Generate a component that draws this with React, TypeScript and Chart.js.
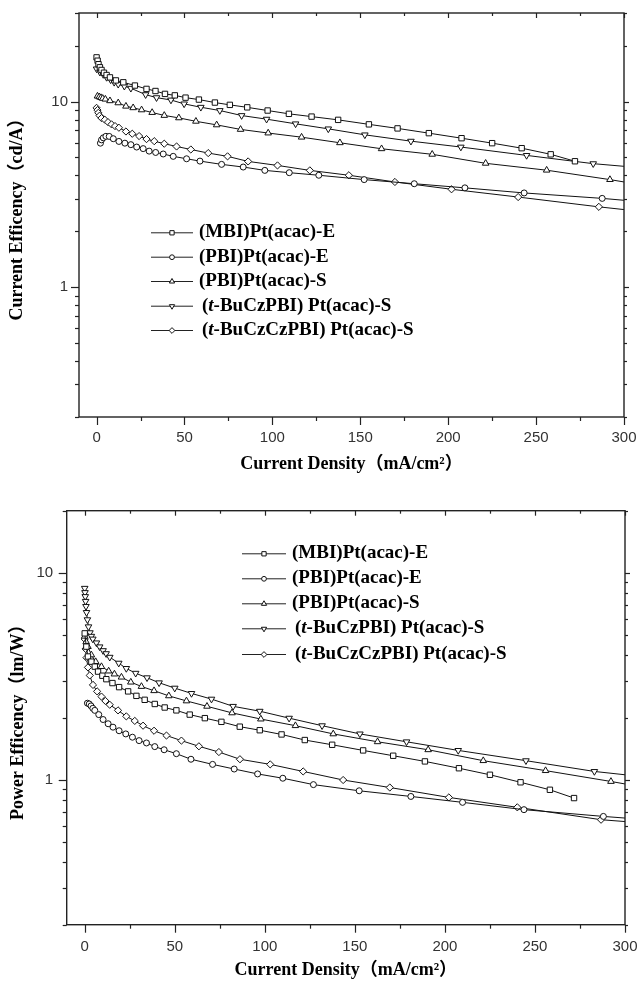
import React, { useEffect, useRef } from 'react';
import { Chart, registerables } from 'chart.js';

Chart.register(...registerables);

// ---------------- data ----------------
const SERIES_NAMES = [
  '(MBI)Pt(acac)-E',
  '(PBI)Pt(acac)-E',
  '(PBI)Pt(acac)-S',
  '(t-BuCzPBI) Pt(acac)-S',
  '(t-BuCzCzPBI) Pt(acac)-S',
];

// Top chart: current efficiency (cd/A) vs current density (mA/cm2)
const CE_MBI_E_X = [0, 0.6, 1.1, 1.9, 2.8, 4.2, 5.7, 7.6, 11, 15.2, 21.8, 28.4, 33.5, 38.9, 44.5, 50.6, 58.2, 67.3, 75.8, 85.7, 97.3, 109.4, 122.3, 137.4, 154.9, 171.2, 189, 207.6, 225, 241.8, 258.3, 272.1];
const CE_MBI_E_Y = [17.3, 16.6, 15.9, 15.3, 14.8, 14.3, 13.9, 13.5, 13.0, 12.7, 12.2, 11.7, 11.4, 11.0, 10.8, 10.5, 10.25, 9.88, 9.6, 9.31, 8.95, 8.59, 8.3, 7.97, 7.54, 7.17, 6.76, 6.35, 5.97, 5.61, 5.2, 4.77];

const CE_PBI_E_X = [2.2, 2.8, 3.8, 5.3, 7.2, 9.5, 12.7, 16.1, 19.5, 22.8, 26.5, 29.9, 33.6, 37.9, 43.6, 51.2, 58.8, 71.1, 83.4, 95.7, 109.6, 126.4, 152.2, 180.7, 209.5, 243.2, 287.6, 300];
const CE_PBI_E_Y = [5.97, 6.22, 6.38, 6.5, 6.49, 6.31, 6.1, 5.97, 5.86, 5.69, 5.58, 5.41, 5.32, 5.22, 5.07, 4.92, 4.78, 4.59, 4.44, 4.26, 4.14, 4.01, 3.8, 3.61, 3.43, 3.22, 3.01, 2.94];

const CE_PBI_S_X = [0.5, 1.5, 2.5, 3.5, 5, 7.6, 12.3, 16.7, 20.8, 25.6, 31.6, 38.5, 46.8, 56.5, 68.3, 81.9, 97.6, 116.6, 138.4, 162.1, 190.9, 221.3, 256, 292, 300];
const CE_PBI_S_Y = [10.7, 10.6, 10.5, 10.4, 10.3, 10.1, 9.84, 9.44, 9.26, 9.02, 8.73, 8.42, 8.17, 7.83, 7.49, 7.08, 6.77, 6.43, 6.0, 5.57, 5.2, 4.65, 4.27, 3.8, 3.69];

const CE_TBUCZ_X = [0, 1.9, 3.8, 5.7, 8, 10, 12.3, 15.8, 19.5, 27.9, 34.1, 42.3, 49.8, 59.3, 70.1, 82.5, 96.7, 113.2, 131.8, 152.6, 178.8, 207.2, 244.6, 282.5, 300];
const CE_TBUCZ_Y = [15.0, 14.4, 14.0, 13.5, 13.1, 12.7, 12.4, 12.1, 11.8, 10.9, 10.5, 10.2, 9.72, 9.32, 8.95, 8.41, 8.04, 7.59, 7.13, 6.62, 6.12, 5.69, 5.13, 4.63, 4.48];

const CE_TBUCZCZ_X = [0, 0.5, 1, 1.7, 2.8, 4.7, 6.5, 8.5, 10.5, 12.7, 16.7, 20.3, 24.2, 28.4, 32.8, 38.5, 45.5, 53.6, 63.5, 74.5, 86.2, 102.9, 121.3, 143.5, 169.7, 201.9, 239.8, 285.7, 300];
const CE_TBUCZCZ_Y = [9.25, 9.0, 8.7, 8.4, 8.15, 7.98, 7.75, 7.54, 7.38, 7.23, 6.9, 6.71, 6.52, 6.28, 6.12, 5.93, 5.73, 5.52, 5.28, 5.07, 4.76, 4.53, 4.26, 4.01, 3.69, 3.37, 3.06, 2.71, 2.62];

// Bottom chart: power efficiency (lm/W) vs current density (mA/cm2)
const PE_MBI_E_X = [0, 0.9, 1.8, 3.7, 5.6, 7.4, 9.8, 12, 15.4, 19.1, 24.1, 28.7, 33.3, 38.9, 44.4, 50.9, 58.3, 66.7, 75.9, 86.1, 97.2, 109.3, 122.2, 137.4, 154.6, 171.3, 188.9, 207.8, 225, 242, 258.3, 271.7];
const PE_MBI_E_Y = [5.11, 4.41, 3.95, 3.73, 3.53, 3.34, 3.19, 3.07, 2.94, 2.81, 2.68, 2.55, 2.44, 2.33, 2.24, 2.17, 2.07, 1.99, 1.91, 1.81, 1.74, 1.66, 1.56, 1.48, 1.39, 1.31, 1.23, 1.14, 1.06, 0.975, 0.897, 0.818];

const PE_PBI_E_X = [1.5, 2.5, 3.5, 4.5, 5.6, 7.8, 10.2, 13, 15.7, 19.1, 22.8, 26.5, 30.2, 34.3, 38.9, 44.1, 50.9, 59, 71, 83, 96, 110, 127, 152.4, 181.1, 209.8, 243.9, 288, 300];
const PE_PBI_E_Y = [2.35, 2.33, 2.28, 2.22, 2.17, 2.07, 1.96, 1.87, 1.8, 1.73, 1.67, 1.61, 1.55, 1.51, 1.45, 1.4, 1.34, 1.26, 1.19, 1.13, 1.07, 1.02, 0.95, 0.887, 0.833, 0.78, 0.719, 0.667, 0.655];

const PE_PBI_S_X = [0, 0.8, 1.8, 3.7, 6.1, 9.3, 13.3, 16.5, 20.4, 25.6, 31.5, 38.5, 46.7, 56.5, 67.9, 81.8, 97.8, 117, 138, 162.6, 190.7, 221.3, 255.9, 292.2, 300];
const PE_PBI_S_Y = [4.95, 4.65, 4.41, 4.02, 3.73, 3.53, 3.36, 3.25, 3.14, 2.97, 2.83, 2.7, 2.55, 2.41, 2.27, 2.11, 1.97, 1.83, 1.67, 1.53, 1.4, 1.24, 1.11, 0.984, 0.957];

const PE_TBUCZ_X = [0, 0.15, 0.3, 0.5, 0.7, 1.0, 1.5, 2.1, 2.9, 3.7, 4.5, 6.5, 8.3, 10.2, 11.9, 13.9, 18.9, 23.1, 28.3, 34.6, 41.3, 50, 59.3, 70.4, 82.4, 97.2, 113.5, 131.8, 152.8, 178.7, 207.4, 245, 283, 300];
const PE_TBUCZ_Y = [8.44, 8.05, 7.7, 7.3, 6.9, 6.45, 5.95, 5.5, 5.15, 4.95, 4.8, 4.6, 4.4, 4.22, 4.08, 3.92, 3.67, 3.46, 3.28, 3.12, 2.95, 2.78, 2.62, 2.46, 2.27, 2.15, 1.99, 1.83, 1.67, 1.53, 1.39, 1.24, 1.1, 1.06];

const PE_TBUCZCZ_X = [0, 0.5, 1, 1.8, 2.8, 4.6, 6.9, 9.3, 11.5, 13.9, 18.5, 23.1, 27.8, 32.4, 38.5, 45.4, 53.7, 63.4, 74.5, 86.2, 103, 121.3, 143.5, 169.4, 202.2, 240.2, 286.7, 300];
const PE_TBUCZCZ_Y = [4.8, 4.3, 3.9, 3.5, 3.2, 2.88, 2.68, 2.53, 2.41, 2.31, 2.17, 2.03, 1.93, 1.83, 1.73, 1.64, 1.55, 1.455, 1.365, 1.26, 1.19, 1.1, 1.0, 0.92, 0.824, 0.738, 0.643, 0.63];

// axes
const X_MIN = -10;
const X_MAX = 300;
const X_TICK_STEP = 25;
const X_LABEL_STEP = 50;
const Y_TICKS_TOP = [0.2, 0.3, 0.4, 0.5, 0.6, 0.7, 0.8, 0.9, 1, 2, 3, 4, 5, 6, 7, 8, 9, 10, 20, 30];
const Y_TICKS_BOTTOM = [0.2, 0.3, 0.4, 0.5, 0.6, 0.7, 0.8, 0.9, 1, 2, 3, 4, 5, 6, 7, 8, 9, 10, 20];
const Y_LABELED = [1, 10];
const X_TITLE = 'Current Density（mA/cm²）';
const Y_TITLE_TOP = 'Current Efficency（cd/A）';
const Y_TITLE_BOTTOM = 'Power Efficency（lm/W）';

// ---------------- styles ----------------
const MARKERS = [
  { style: 'rect', rot: 0, r: 3.8 },
  { style: 'circle', rot: 0, r: 3.0 },
  { style: 'triangle', rot: 0, r: 3.8 },
  { style: 'triangle', rot: 180, r: 3.8 },
  { style: 'rectRot', rot: 0, r: 3.6 },
];
const INK = '#111';
const SERIF = '"Liberation Serif", "Times New Roman", "Noto Sans CJK SC", serif';
const SANS = '"Liberation Sans", Arial, sans-serif';

function drawMarker(ctx: CanvasRenderingContext2D, style: string, rot: number, x: number, y: number, r: number) {
  ctx.beginPath();
  if (style === 'circle') {
    ctx.arc(x, y, r, 0, Math.PI * 2);
  } else if (style === 'rect') {
    const s = Math.SQRT1_2 * r;
    ctx.rect(x - s, y - s, 2 * s, 2 * s);
  } else if (style === 'rectRot') {
    ctx.moveTo(x, y - r);
    ctx.lineTo(x + r, y);
    ctx.lineTo(x, y + r);
    ctx.lineTo(x - r, y);
    ctx.closePath();
  } else if (style === 'triangle') {
    let a = (rot * Math.PI) / 180;
    ctx.moveTo(x + Math.sin(a) * r, y - Math.cos(a) * r);
    a += (2 * Math.PI) / 3;
    ctx.lineTo(x + Math.sin(a) * r, y - Math.cos(a) * r);
    a += (2 * Math.PI) / 3;
    ctx.lineTo(x + Math.sin(a) * r, y - Math.cos(a) * r);
    ctx.closePath();
  }
  ctx.fillStyle = '#fff';
  ctx.fill();
  ctx.lineWidth = 1;
  ctx.strokeStyle = INK;
  ctx.stroke();
}

const axisDecor = {
  id: 'axisDecor',
  afterDraw(chart: any) {
    const ctx: CanvasRenderingContext2D = chart.ctx;
    const { left, right, top, bottom } = chart.chartArea;
    const xs = chart.scales.x;
    const ys = chart.scales.y;
    ctx.save();
    ctx.strokeStyle = '#222';
    ctx.lineWidth = 1.2;
    const seg = (x1: number, y1: number, x2: number, y2: number) => {
      ctx.beginPath();
      ctx.moveTo(x1, y1);
      ctx.lineTo(x2, y2);
      ctx.stroke();
    };
    xs.ticks.forEach((t: any) => {
      const v = t.value;
      if (v < 0) return;
      const px = Math.round(xs.getPixelForValue(v)) + 0.5;
      const major = Math.abs(v % X_LABEL_STEP) < 1e-9;
      seg(px, bottom, px, bottom + (major ? 8 : 4));
      seg(px, top, px, top + (major ? 5 : 3));
    });
    ys.ticks.forEach((t: any) => {
      const v = t.value;
      const lg = Math.log10(v);
      const major = Math.abs(lg - Math.round(lg)) < 1e-9;
      const py = Math.round(ys.getPixelForValue(v)) + 0.5;
      seg(left - (major ? 8 : 4), py, left, py);
      seg(right, py, right + (major ? 5 : 3), py);
    });
    ctx.lineWidth = 1.4;
    ctx.strokeRect(left, top, right - left, bottom - top);
    ctx.restore();
  },
};

const customLegend = {
  id: 'customLegend',
  afterDraw(chart: any, _args: any, opts: any) {
    const ctx: CanvasRenderingContext2D = chart.ctx;
    ctx.save();
    chart.data.datasets.forEach((ds: any, i: number) => {
      const y = opts.rows[i];
      const m = MARKERS[i];
      ctx.strokeStyle = '#222';
      ctx.lineWidth = 1;
      ctx.beginPath();
      ctx.moveTo(opts.x0, y + 0.5);
      ctx.lineTo(opts.x1, y + 0.5);
      ctx.stroke();
      drawMarker(ctx, m.style, m.rot, (opts.x0 + opts.x1) / 2, y + 0.5, m.r * 0.8);
      const label: string = ds.label;
      const match = label.match(/^(\()(t)(-.*)$/);
      const parts = match
        ? [
            { t: match[1], it: false },
            { t: match[2], it: true },
            { t: match[3], it: false },
          ]
        : [{ t: label, it: false }];
      ctx.fillStyle = '#000';
      ctx.textBaseline = 'middle';
      ctx.textAlign = 'left';
      let x = opts.tx + (match ? 3 : 0);
      parts.forEach((p) => {
        ctx.font = `${p.it ? 'italic ' : ''}bold ${opts.fontSize}px ${SERIF}`;
        ctx.fillText(p.t, x, y);
        x += ctx.measureText(p.t).width;
      });
    });
    ctx.restore();
  },
};

function series(xs: number[], ys: number[]) {
  return xs.map((x, i) => ({ x, y: ys[i] }));
}

function buildConfig(p: any) {
  const datasets = p.data.map((d: any, i: number) => {
    const m = MARKERS[i];
    return {
      label: SERIES_NAMES[i],
      data: series(d[0], d[1]),
      showLine: true,
      borderColor: INK,
      borderWidth: 1,
      tension: 0,
      pointStyle: m.style,
      rotation: m.rot,
      pointRotation: m.rot,
      pointRadius: (c: any) => (c.raw && c.raw.x >= X_MAX ? 0 : m.r),
      pointBackgroundColor: '#fff',
      pointBorderColor: INK,
      pointBorderWidth: 1,
    };
  });
  return {
    type: 'scatter',
    data: { datasets },
    plugins: [axisDecor, customLegend],
    options: {
      animation: false,
      responsive: false,
      maintainAspectRatio: false,
      layout: { padding: { top: p.padTop, right: p.padRight, left: 0, bottom: 0 } },
      plugins: {
        legend: { display: false },
        tooltip: { enabled: false },
        customLegend: p.legend,
      },
      scales: {
        x: {
          type: 'linear',
          min: X_MIN,
          max: X_MAX,
          grid: { display: false, drawTicks: false },
          border: { display: false },
          ticks: {
            stepSize: X_TICK_STEP,
            includeBounds: false,
            autoSkip: false,
            maxRotation: 0,
            padding: p.xTickPad,
            color: '#333',
            font: { family: SANS, size: 15 },
            callback: (v: any) => (v >= 0 && v % X_LABEL_STEP === 0 ? String(v) : ''),
          },
          title: {
            display: true,
            text: X_TITLE,
            color: '#000',
            font: { family: SERIF, size: 18, weight: 'bold' },
            padding: { top: 0, bottom: p.xTitlePad },
          },
          afterFit: (s: any) => {
            s.height = p.xHeight;
            s.paddingLeft = 0;
            s.paddingRight = 0;
          },
        },
        y: {
          type: 'logarithmic',
          min: p.yMin,
          max: p.yMax,
          grid: { display: false, drawTicks: false },
          border: { display: false },
          afterBuildTicks: (s: any) => {
            s.ticks = p.yTicks.map((v: number) => ({ value: v }));
          },
          ticks: {
            autoSkip: false,
            padding: p.yTickPad,
            color: '#333',
            font: { family: SANS, size: 15 },
            callback: (v: any) => (Y_LABELED.includes(Number(v)) ? String(v) : ''),
          },
          title: {
            display: true,
            text: p.yTitle,
            color: '#000',
            font: { family: SERIF, size: 18, weight: 'bold' },
            padding: { top: p.yTitlePad, bottom: 0 },
          },
          afterFit: (s: any) => {
            s.width = p.yWidth;
            s.paddingTop = 0;
            s.paddingBottom = 0;
          },
        },
      },
    },
  };
}

const TOP_PANEL = {
  data: [
    [CE_MBI_E_X, CE_MBI_E_Y],
    [CE_PBI_E_X, CE_PBI_E_Y],
    [CE_PBI_S_X, CE_PBI_S_Y],
    [CE_TBUCZ_X, CE_TBUCZ_Y],
    [CE_TBUCZCZ_X, CE_TBUCZCZ_Y],
  ],
  yMin: 0.2,
  yMax: 30,
  yTicks: Y_TICKS_TOP,
  yTitle: Y_TITLE_TOP,
  padTop: 13,
  padRight: 14,
  yWidth: 79,
  xHeight: 73,
  xTickPad: 12,
  xTitlePad: 15,
  yTickPad: 11,
  yTitlePad: 6.2,
  legend: { x0: 151, x1: 193, tx: 199, rows: [232.3, 256.7, 281, 305.7, 330], fontSize: 19 },
};

const BOTTOM_PANEL = {
  data: [
    [PE_MBI_E_X, PE_MBI_E_Y],
    [PE_PBI_E_X, PE_PBI_E_Y],
    [PE_PBI_S_X, PE_PBI_S_Y],
    [PE_TBUCZ_X, PE_TBUCZ_Y],
    [PE_TBUCZCZ_X, PE_TBUCZCZ_Y],
  ],
  yMin: 0.2,
  yMax: 20,
  yTicks: Y_TICKS_BOTTOM,
  yTitle: Y_TITLE_BOTTOM,
  padTop: 20.7,
  padRight: 13,
  yWidth: 66.7,
  xHeight: 56.3,
  xTickPad: 13,
  xTitlePad: 0.2,
  yTickPad: 13.5,
  yTitlePad: 7.2,
  legend: { x0: 242, x1: 286, tx: 292, rows: [63.3, 88.3, 113.3, 138.3, 164], fontSize: 19 },
};

function Panel({ panel, top, height }: { panel: any; top: number; height: number }) {
  const ref = useRef<HTMLCanvasElement | null>(null);
  useEffect(() => {
    if (!ref.current) return;
    const chart = new Chart(ref.current, buildConfig(panel) as any);
    return () => chart.destroy();
  }, [panel]);
  return (
    <canvas
      ref={ref}
      width={638}
      height={height}
      style={{ position: 'absolute', left: 0, top, width: 638, height, display: 'block' }}
    />
  );
}

export default function App() {
  return (
    <div style={{ position: 'absolute', left: 0, top: 0, width: 638, height: 981, background: '#fff', overflow: 'hidden' }}>
      <Panel panel={TOP_PANEL} top={0} height={490} />
      <Panel panel={BOTTOM_PANEL} top={490} height={491} />
    </div>
  );
}
